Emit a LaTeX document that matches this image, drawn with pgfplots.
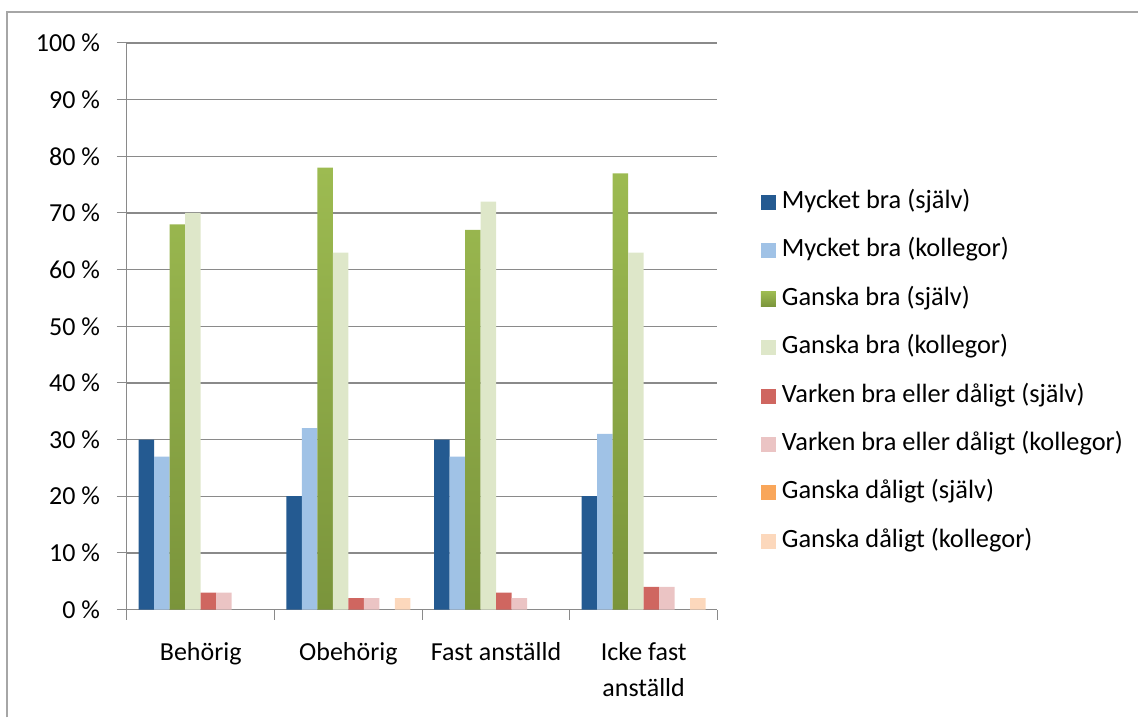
\documentclass[border=0pt]{standalone}
\usepackage{pgfplots}
\pgfplotsset{compat=1.18}
\usepackage{fontspec}
\setmainfont{Carlito}

\definecolor{mbs}{HTML}{245A91}
\definecolor{mbk}{HTML}{A0C2E6}
\definecolor{gbtop}{HTML}{9DBB51}
\definecolor{gbbot}{HTML}{7A943B}
\definecolor{gbk}{HTML}{DEE7C9}
\definecolor{vbs}{HTML}{CF6660}
\definecolor{vbk}{HTML}{EBC4C4}
\definecolor{gds}{HTML}{F9A65A}
\definecolor{gdk}{HTML}{FCD8BC}
\definecolor{gridc}{HTML}{8A8A8A}
\definecolor{framec}{HTML}{A6A6A6}

\pgfplotsset{
  sq/.style={legend image code/.code={\fill[##1] (0pt,-3.75pt) rectangle (7.5pt,3.75pt);}},
}

\begin{document}
\begin{tikzpicture}
\begin{axis}[
    scale only axis,
    width=295.5pt, height=283.5pt,
    ybar, bar width=0.105,
    xmin=-0.5, xmax=3.5,
    ymin=0, ymax=100,
    xtick={-0.5,0.5,1.5,2.5,3.5},
    x tick label as interval,
    xticklabels={Behörig, Obehörig, Fast anställd, {Icke fast\\anställd}, {}},
    ytick={0,10,...,100},
    yticklabel={\pgfmathprintnumber{\tick} \%},
    /pgf/number format/assume math mode=true,
    axis lines*=left,
    axis line style={gridc, line width=0.5pt},
    tick align=outside,
    major tick length=5pt,
    tick style={gridc, line width=0.5pt},
    ymajorgrids,
    grid style={gridc, line width=0.7pt},
    tick label style={font=\fontsize{13}{18}\selectfont},
    xticklabel style={align=center, anchor=north, yshift=-8pt},
    yticklabel style={anchor=east, xshift=-5pt},
    legend style={draw=none, fill=none, at={(1.0728,0.4195)}, anchor=west,
      font=\fontsize{13.2}{16}\selectfont, row sep=12.2pt, inner sep=0pt,
      nodes={inner sep=0pt, text height=9pt, text depth=3pt, anchor=west},
      /tikz/every even column/.append style={column sep=0pt}},
    legend cell align=left,
    clip=false,
]
% Mycket bra (själv)
\addplot[draw=none, fill=mbs, bar shift=-0.3675, sq] coordinates {(0,30) (1,20) (2,30) (3,20)};
\addlegendentry{\hspace{3pt}Mycket bra (själv)}
% Mycket bra (kollegor)
\addplot[draw=none, fill=mbk, bar shift=-0.2625, sq] coordinates {(0,27) (1,32) (2,27) (3,31)};
\addlegendentry{\hspace{3pt}Mycket bra (kollegor)}
% Ganska bra (själv)
\addplot[draw=none, top color=gbtop, bottom color=gbbot, bar shift=-0.1575, sq] coordinates {(0,68) (1,78) (2,67) (3,77)};
\addlegendentry{\hspace{3pt}Ganska bra (själv)}
% Ganska bra (kollegor)
\addplot[draw=none, fill=gbk, bar shift=-0.0525, sq] coordinates {(0,70) (1,63) (2,72) (3,63)};
\addlegendentry{\hspace{3pt}Ganska bra (kollegor)}
% Varken bra eller dåligt (själv)
\addplot[draw=none, fill=vbs, bar shift=0.0525, sq] coordinates {(0,3) (1,2) (2,3) (3,4)};
\addlegendentry{\hspace{3pt}Varken bra eller dåligt (själv)}
% Varken bra eller dåligt (kollegor)
\addplot[draw=none, fill=vbk, bar shift=0.1575, sq] coordinates {(0,3) (1,2) (2,2) (3,4)};
\addlegendentry{\hspace{3pt}Varken bra eller dåligt (kollegor)}
% Ganska dåligt (själv): all zero
\addlegendimage{draw=none, fill=gds, sq}
\addlegendentry{\hspace{3pt}Ganska dåligt (själv)}
% Ganska dåligt (kollegor)
\addplot[draw=none, fill=gdk, bar shift=0.3675, sq] coordinates {(1,2) (3,2)};
\addlegendentry{\hspace{3pt}Ganska dåligt (kollegor)}

% chart frame and page extent
\draw[framec, line width=0.8pt] (rel axis cs:-0.2030,-0.1905) -- (rel axis cs:-0.2030,1.0547) -- (rel axis cs:1.7124,1.0547);
\path (rel axis cs:-0.2149,-0.1905) rectangle (rel axis cs:1.7124,1.0758);
\end{axis}
\end{tikzpicture}
\end{document}
